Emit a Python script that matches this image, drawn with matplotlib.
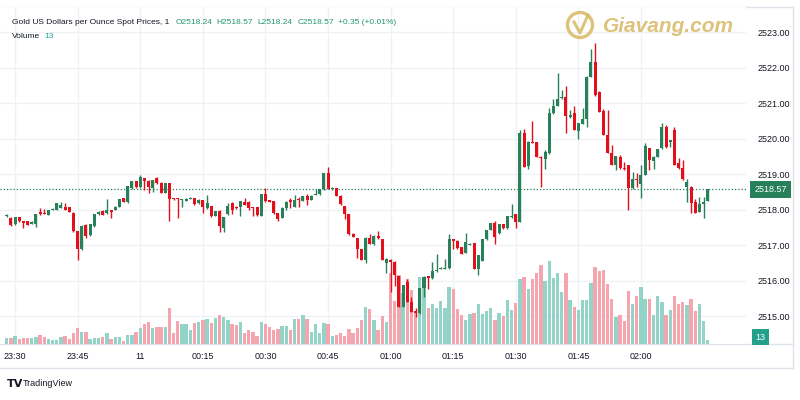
import matplotlib
matplotlib.use("Agg")
import matplotlib.pyplot as plt
import matplotlib.font_manager as fm
import matplotlib.transforms as mtransforms
from matplotlib.patches import Ellipse
from matplotlib.lines import Line2D

# ---------------- data ----------------
start_time = "23:28"
opens = [
    2517.81, 2517.77, 2517.58, 2517.78, 2517.68, 2517.67, 2517.60, 2517.60, 2517.92, 2517.91,
    2517.85, 2517.99, 2518.00, 2518.05, 2518.06, 2518.06, 2517.89, 2517.39, 2516.88, 2517.56,
    2517.28, 2517.54, 2517.86, 2517.97, 2517.89, 2517.99, 2517.99, 2518.08, 2518.31, 2518.20,
    2518.60, 2518.80, 2518.62, 2518.88, 2518.80, 2518.60, 2518.88, 2518.76, 2518.47, 2518.74,
    2518.32, 2518.32, 2518.27, 2518.25, 2518.30, 2518.31, 2518.17, 2518.27, 2518.03, 2518.10,
    2517.82, 2517.97, 2517.49, 2517.86, 2518.19, 2518.08, 2518.08, 2518.22, 2518.22, 2518.06,
    2518.06, 2517.82, 2518.43, 2518.26, 2518.24, 2517.90, 2517.76, 2518.03, 2518.27, 2518.08,
    2518.29, 2518.25, 2518.38, 2518.27, 2518.41, 2518.43, 2518.57, 2519.02, 2518.58, 2518.60,
    2518.39, 2518.10, 2517.86, 2517.32, 2517.20, 2516.88, 2516.59, 2517.21, 2517.03, 2517.25,
    2517.17, 2516.50, 2516.58, 2516.53, 2516.13, 2515.26, 2515.95, 2515.40, 2515.15, 2515.08,
    2515.78, 2516.13, 2516.06, 2516.28, 2516.32, 2516.32, 2516.34, 2517.17, 2517.12, 2516.93,
    2516.78, 2517.00, 2517.05, 2516.32, 2516.56, 2517.16, 2517.42, 2517.63, 2517.33, 2517.58,
    2517.47, 2517.80, 2517.87, 2517.66, 2520.16, 2519.23, 2519.91, 2519.89, 2519.49, 2519.42,
    2519.58, 2520.71, 2520.92, 2521.13, 2521.18, 2520.60, 2520.71, 2520.22, 2520.41, 2520.54,
    2521.74, 2522.16, 2521.32, 2520.77, 2520.10, 2519.60, 2519.25, 2519.47, 2519.18, 2519.25,
    2518.60, 2518.85, 2518.72, 2518.97, 2519.72, 2519.38, 2519.49, 2519.72, 2520.33, 2519.90,
    2520.24, 2519.30, 2519.16, 2518.64, 2518.64, 2518.22, 2517.94, 2518.15, 2518.24,
]
highs = [
    2517.86, 2517.79, 2517.80, 2517.79, 2517.69, 2517.68, 2517.67, 2517.88, 2518.03, 2518.02,
    2518.00, 2518.03, 2518.18, 2518.22, 2518.19, 2518.08, 2517.92, 2517.40, 2517.55, 2517.58,
    2517.60, 2517.87, 2517.95, 2517.99, 2518.29, 2518.00, 2518.09, 2518.30, 2518.32, 2518.67,
    2518.80, 2518.81, 2518.97, 2518.90, 2518.82, 2518.84, 2518.91, 2518.78, 2518.75, 2518.75,
    2518.33, 2518.33, 2518.30, 2518.32, 2518.35, 2518.32, 2518.30, 2518.28, 2518.41, 2518.11,
    2517.97, 2517.98, 2517.80, 2518.17, 2518.20, 2518.09, 2518.25, 2518.31, 2518.23, 2518.07,
    2518.07, 2518.44, 2518.60, 2518.27, 2518.25, 2517.91, 2518.06, 2518.23, 2518.31, 2518.41,
    2518.36, 2518.39, 2518.45, 2518.40, 2518.57, 2518.58, 2519.03, 2519.19, 2518.64, 2518.61,
    2518.40, 2518.11, 2517.87, 2517.33, 2517.21, 2516.89, 2517.22, 2517.32, 2517.28, 2517.40,
    2517.18, 2516.62, 2516.60, 2516.56, 2516.14, 2515.88, 2516.03, 2515.54, 2515.22, 2515.79,
    2516.12, 2516.14, 2516.53, 2516.75, 2516.39, 2516.60, 2517.31, 2517.18, 2517.13, 2516.94,
    2517.33, 2517.06, 2517.06, 2516.73, 2517.17, 2517.43, 2517.62, 2517.68, 2517.59, 2517.59,
    2517.83, 2518.15, 2517.88, 2520.24, 2520.26, 2519.92, 2520.50, 2519.90, 2519.50, 2519.69,
    2520.85, 2521.12, 2521.84, 2521.37, 2521.48, 2520.80, 2520.92, 2520.44, 2520.85, 2521.75,
    2522.51, 2522.70, 2521.33, 2520.82, 2520.80, 2519.82, 2519.52, 2519.54, 2519.35, 2519.26,
    2519.06, 2519.04, 2519.25, 2519.86, 2519.73, 2519.50, 2519.71, 2520.45, 2520.38, 2519.97,
    2520.33, 2519.44, 2519.39, 2518.85, 2518.65, 2518.29, 2518.36, 2518.36, 2518.57,
]
lows = [
    2517.78, 2517.54, 2517.56, 2517.64, 2517.48, 2517.55, 2517.59, 2517.51, 2517.85, 2517.86,
    2517.84, 2517.98, 2517.99, 2518.03, 2517.98, 2517.93, 2517.38, 2516.58, 2516.86, 2517.20,
    2517.26, 2517.52, 2517.85, 2517.84, 2517.88, 2517.75, 2517.98, 2518.07, 2518.21, 2518.19,
    2518.57, 2518.61, 2518.60, 2518.55, 2518.47, 2518.50, 2518.73, 2518.46, 2518.46, 2517.68,
    2518.27, 2517.77, 2518.07, 2518.24, 2518.29, 2518.14, 2518.16, 2517.90, 2518.02, 2517.80,
    2517.81, 2517.38, 2517.38, 2517.85, 2517.87, 2518.02, 2517.81, 2518.12, 2517.98, 2517.81,
    2517.83, 2517.81, 2518.22, 2518.20, 2517.88, 2517.69, 2517.75, 2517.99, 2518.03, 2518.07,
    2518.08, 2518.24, 2518.13, 2518.26, 2518.40, 2518.42, 2518.56, 2518.58, 2518.55, 2518.38,
    2518.14, 2517.74, 2517.29, 2517.22, 2516.62, 2516.58, 2516.48, 2517.02, 2517.01, 2517.18,
    2516.57, 2516.20, 2515.69, 2515.85, 2515.25, 2515.25, 2515.39, 2515.11, 2514.98, 2515.06,
    2515.54, 2515.75, 2516.05, 2516.25, 2516.31, 2516.31, 2516.33, 2516.88, 2516.90, 2516.74,
    2516.77, 2516.99, 2516.31, 2516.15, 2516.55, 2517.15, 2517.41, 2517.03, 2517.32, 2517.46,
    2517.46, 2517.75, 2517.47, 2517.65, 2519.20, 2519.13, 2519.87, 2519.48, 2518.64, 2519.13,
    2519.57, 2520.70, 2520.91, 2521.10, 2520.15, 2520.58, 2520.23, 2520.00, 2520.40, 2520.33,
    2521.73, 2521.20, 2520.75, 2520.09, 2519.59, 2519.24, 2519.11, 2519.15, 2519.12, 2518.00,
    2518.59, 2518.64, 2518.31, 2518.96, 2519.11, 2519.13, 2519.48, 2519.71, 2519.74, 2519.77,
    2519.24, 2519.15, 2518.83, 2518.22, 2517.91, 2517.90, 2517.93, 2517.75, 2518.24,
]
closes = [
    2517.84, 2517.56, 2517.78, 2517.67, 2517.62, 2517.57, 2517.65, 2517.87, 2517.87, 2517.88,
    2518.00, 2518.02, 2518.17, 2518.14, 2517.99, 2517.94, 2517.39, 2516.89, 2517.54, 2517.25,
    2517.59, 2517.86, 2517.94, 2517.85, 2518.00, 2517.94, 2518.08, 2518.29, 2518.22, 2518.66,
    2518.79, 2518.62, 2518.91, 2518.79, 2518.64, 2518.83, 2518.74, 2518.47, 2518.74, 2518.29,
    2518.29, 2518.29, 2518.29, 2518.30, 2518.32, 2518.15, 2518.28, 2518.06, 2518.17, 2517.82,
    2517.96, 2517.53, 2517.80, 2518.10, 2518.00, 2518.03, 2518.24, 2518.13, 2518.03, 2518.03,
    2517.84, 2518.43, 2518.24, 2518.21, 2517.89, 2517.74, 2518.05, 2518.22, 2518.21, 2518.27,
    2518.27, 2518.38, 2518.27, 2518.39, 2518.45, 2518.57, 2519.02, 2518.59, 2518.61, 2518.39,
    2518.15, 2517.87, 2517.30, 2517.23, 2516.88, 2516.59, 2517.21, 2517.03, 2517.26, 2517.19,
    2516.58, 2516.60, 2516.53, 2516.15, 2515.26, 2515.87, 2515.40, 2515.12, 2515.08, 2515.78,
    2516.11, 2516.06, 2516.28, 2516.30, 2516.34, 2516.34, 2517.17, 2517.12, 2516.91, 2516.75,
    2517.09, 2517.03, 2516.32, 2516.72, 2517.16, 2517.42, 2517.61, 2517.23, 2517.58, 2517.47,
    2517.82, 2517.82, 2517.64, 2520.16, 2519.21, 2519.91, 2519.88, 2519.49, 2519.46, 2519.61,
    2520.71, 2520.92, 2521.10, 2521.18, 2520.63, 2520.66, 2520.24, 2520.43, 2520.54, 2521.74,
    2522.16, 2521.23, 2520.76, 2520.10, 2519.60, 2519.25, 2519.51, 2519.16, 2519.13, 2518.60,
    2518.85, 2518.83, 2518.97, 2519.79, 2519.39, 2519.49, 2519.70, 2520.31, 2519.75, 2519.96,
    2519.25, 2519.16, 2518.85, 2518.78, 2518.19, 2517.91, 2518.15, 2518.22, 2518.57,
]
volumes = [
    18, 18, 26, 16, 18, 18, 18, 21, 29, 21, 15, 13, 13, 21, 26, 16, 34, 50, 39, 39,
    16, 18, 20, 21, 34, 16, 23, 23, 11, 29, 29, 39, 50, 64, 70, 50, 55, 55, 55, 116,
    34, 74, 63, 63, 45, 66, 71, 77, 79, 66, 84, 93, 87, 77, 63, 61, 69, 34, 45, 39,
    26, 69, 64, 53, 45, 47, 58, 58, 45, 79, 79, 93, 79, 39, 64, 36, 66, 64, 26, 29,
    34, 26, 47, 36, 52, 77, 119, 112, 77, 45, 90, 70, 227, 138, 221, 163, 208, 173, 102, 214,
    214, 115, 128, 115, 138, 115, 182, 176, 112, 93, 77, 96, 99, 128, 96, 106, 115, 77, 99, 90,
    141, 109, 131, 208, 214, 176, 208, 227, 253, 202, 266, 211, 227, 166, 227, 141, 118, 109, 141, 141,
    195, 246, 234, 237, 192, 144, 86, 93, 74, 170, 128, 154, 182, 144, 144, 93, 154, 134, 93, 109,
    154, 128, 134, 125, 144, 106, 128, 74, 13,
]
price_ticks = [2515, 2516, 2517, 2518, 2519, 2520, 2521, 2522, 2523]
time_tick_times = ["23:30", "23:45", "00:00", "00:15", "00:30", "00:45",
                   "01:00", "01:15", "01:30", "01:45", "02:00"]
time_tick_labels = ["23:30", "23:45", "11", "00:15", "00:30", "00:45",
                    "01:00", "01:15", "01:30", "01:45", "02:00"]
title = "Gold US Dollars per Ounce Spot Prices, 1"
header_values = ["O2518.24", "H2518.57", "L2518.24", "C2518.57", "+0.35 (+0.01%)"]
last_price = 2518.57
last_volume = 13

# ---------------- style ----------------
UP = "#27805a"
DOWN = "#e3101c"
VOL_UP = "#94d4c8"
VOL_DOWN = "#f5a5ae"
GRID = "#eff1f5"
BORDER = "#e0e3eb"
TEXT = "#131722"
HEAD_GREEN = "#22966b"

names = {f.name for f in fm.fontManager.ttflist}
if "Liberation Sans Narrow" in names:
    UI_FONT, SZ = "Liberation Sans Narrow", 1.0
else:
    UI_FONT, SZ = "Liberation Sans", 0.85
plt.rcParams["font.family"] = [UI_FONT, "DejaVu Sans"]
FS = 7.6 * SZ

W, H = 800, 400
fig = plt.figure(figsize=(8, 4), dpi=100)
fig.patch.set_facecolor("white")


def fx(px):
    return px / W


def fy(py):
    return 1 - py / H


PANE_L, PANE_R, PANE_T, PANE_B = 0, 746, 7, 344
X0, PX_PER_BAR = 6.7, 4.173
REF_P, REF_Y, PX_PER_USD = 2518.0, 209.5, 35.5
VOL_PER_PX = 3.2

rect = [fx(PANE_L), fy(PANE_B), (PANE_R - PANE_L) / W, (PANE_B - PANE_T) / H]
axv = fig.add_axes(rect, zorder=1)
ax = fig.add_axes(rect, zorder=2)
ax.patch.set_visible(False)

xlim = ((PANE_L - X0) / PX_PER_BAR, (PANE_R - X0) / PX_PER_BAR)
ylim = (REF_P - (PANE_B - REF_Y) / PX_PER_USD, REF_P + (REF_Y - PANE_T) / PX_PER_USD)
for a in (ax, axv):
    a.set_xlim(*xlim)
    for s in a.spines.values():
        s.set_visible(False)
ax.set_ylim(*ylim)
axv.set_ylim(0, (PANE_B - PANE_T) * VOL_PER_PX)
axv.set_xticks([])
axv.set_yticks([])


def to_idx(t):
    h, m = map(int, t.split(":"))
    sh, sm = map(int, start_time.split(":"))
    return (h * 60 + m - (sh * 60 + sm)) % 1440


tick_idx = [to_idx(t) for t in time_tick_times]

# grid (drawn in the bottom axes)
hy = mtransforms.blended_transform_factory(axv.transAxes, ax.transData)
for p in price_ticks:
    axv.plot([0, 1], [p, p], transform=hy, color=GRID, lw=1, zorder=0)
for t in tick_idx:
    axv.axvline(t, color=GRID, lw=1, zorder=0)

n = len(closes)
xs = list(range(n))
up = [c >= o for o, c in zip(opens, closes)]

# volume
axv.bar(xs, volumes, width=0.8, color=[VOL_UP if u else VOL_DOWN for u in up],
        zorder=2, linewidth=0)

# candles
ccol = [UP if u else DOWN for u in up]
ax.vlines(xs, lows, highs, colors=ccol, linewidth=1.0, zorder=3)
bottoms = [min(o, c) for o, c in zip(opens, closes)]
heights = [max(abs(c - o), 0.025) for o, c in zip(opens, closes)]
ax.bar(xs, heights, bottom=bottoms, width=0.72, color=ccol, linewidth=0, zorder=4)

# last price dotted line
ax.axhline(last_price, color=UP, lw=0.9, ls=(0, (1, 1.6)), zorder=2)

# axes ticks
ax.yaxis.tick_right()
ax.set_yticks(price_ticks)
ax.set_yticklabels([f"{p:.2f}" for p in price_ticks])
ax.tick_params(axis="y", length=0, pad=8, labelsize=FS, labelcolor=TEXT)
ax.set_xticks(tick_idx)
ax.set_xticklabels(time_tick_labels)
ax.tick_params(axis="x", length=0, pad=6, labelsize=FS, labelcolor=TEXT)

# last price label
tr = mtransforms.blended_transform_factory(fig.transFigure, ax.transData)
ax.text(fx(770.5), last_price, f"{last_price:.2f}", transform=tr, ha="center",
        va="center", color="white", fontsize=FS, zorder=10, clip_on=False,
        bbox=dict(boxstyle="square,pad=0.42", fc=UP, ec="none"))
# last volume label
fig.text(fx(760.5), fy(337), f"{last_volume}", ha="center", va="center",
         color="white", fontsize=FS,
         bbox=dict(boxstyle="square,pad=0.35", fc="#22a08a", ec="none"))

# widget borders
for (x1, y1, x2, y2) in [(0, 7, 793, 7), (793, 7, 793, 368), (0, 368, 793, 368),
                         (0, 344, 793, 344)]:
    fig.add_artist(Line2D([fx(x1), fx(x2)], [fy(y1), fy(y2)], transform=fig.transFigure,
                          color=BORDER, lw=1, zorder=0))

# header: pieces chained one after another
renderer = fig.canvas.get_renderer()
HFS = FS * 0.93
xcur = 12
pieces = [(title, TEXT)] + [(s, HEAD_GREEN) for s in header_values]
for k, (s, col) in enumerate(pieces):
    t = fig.text(fx(xcur), fy(22), s, ha="left", va="center", color=col,
                 fontsize=HFS, zorder=20)
    bb = t.get_window_extent(renderer)
    xcur = bb.x1 + (6 if k == 0 else 4.5)
t = fig.text(fx(12), fy(37), "Volume", ha="left", va="center", color=TEXT,
             fontsize=HFS, zorder=20)
bb = t.get_window_extent(renderer)
fig.text(fx(bb.x1 + 4), fy(37), f"{last_volume}", ha="left", va="center",
         color="#26a69a", fontsize=HFS, zorder=20)

# watermark (on top of the chart)
GOLD = "#d8b865"
fig.add_artist(Ellipse((fx(580), fy(25)), 25 / W, 25 / H, transform=fig.transFigure,
                       fill=False, ec=GOLD, lw=2.4, alpha=0.85, zorder=20))
fig.add_artist(Line2D([fx(574), fx(580), fx(588)], [fy(22), fy(33), fy(15)],
                      transform=fig.transFigure, color=GOLD, lw=2.2, alpha=0.85,
                      zorder=20))
fig.text(fx(603), fy(26), "Giavang.com", ha="left", va="center", color=GOLD,
         fontsize=15, fontweight="bold", fontstyle="italic", alpha=0.85,
         family="Liberation Sans", zorder=20)

# TradingView footer
fig.text(fx(7), fy(384), "TV", ha="left", va="center", color=TEXT, fontsize=8,
         fontweight="heavy", family="DejaVu Sans")
fig.text(fx(23), fy(384), "TradingView", ha="left", va="center", color=TEXT,
         fontsize=FS)

fig.savefig("out.png", dpi=100, facecolor="white")
